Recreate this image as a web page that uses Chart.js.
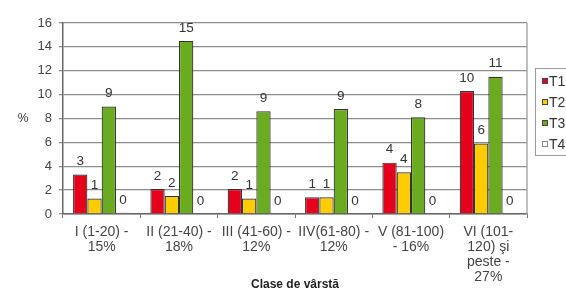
<!DOCTYPE html>
<html><head><meta charset="utf-8">
<script src="https://cdn.jsdelivr.net/npm/chart.js@4/dist/chart.umd.min.js"></script>
<style>html,body{margin:0;padding:0;background:#fff;overflow:hidden}#w{width:566px;height:295px;position:relative}</style>
</head><body><div id="w"><canvas id="c" width="566" height="295"></canvas></div>
<script>
const categories = [
  ["I (1-20) -", "15%"],
  ["II (21-40) -", "18%"],
  ["III (41-60) -", "12%"],
  ["IIV(61-80) -", "12%"],
  ["V (81-100)", "- 16%"],
  ["VI (101-", "120) şi", "peste -", "27%"]
];
const seriesNames = ["T1", "T2", "T3", "T4"];
const t1 = [3.3, 2.1, 2.1, 1.4, 4.3, 10.3];
const t2 = [1.3, 1.5, 1.3, 1.4, 3.5, 5.9];
const t3 = [9.0, 14.5, 8.6, 8.8, 8.1, 11.5];
const t4 = [0.1, 0, 0, 0, 0, 0];
const t1Labels = ["3", "2", "2", "1", "4", "10"];
const t2Labels = ["1", "2", "1", "1", "4", "6"];
const t3Labels = ["9", "15", "9", "9", "8", "11"];
const t4Labels = ["0", "0", "0", "0", "0", "0"];
const yTicks = [0, 2, 4, 6, 8, 10, 12, 14, 16];
const xTitle = "Clase de vârstă";
const yTitle = "%";

const colors = ["#e5001c", "#ffcc00", "#6aab1f", "#ffffff"];
const labelSets = [t1Labels, t2Labels, t3Labels, t4Labels];
const FONT = "'Liberation Sans', Arial, sans-serif";

const extras = {
  id: 'extras',
  afterDatasetsDraw(chart) {
    const ctx = chart.ctx;
    const a = chart.chartArea;
    ctx.save();
    // right border of plot
    ctx.strokeStyle = '#aaa';
    ctx.lineWidth = 1.5;
    ctx.beginPath();
    ctx.moveTo(a.right, a.top);
    ctx.lineTo(a.right, a.bottom);
    ctx.stroke();
    // data labels
    ctx.font = '13.5px ' + FONT;
    ctx.fillStyle = '#333';
    ctx.textAlign = 'center';
    ctx.textBaseline = 'middle';
    chart.data.datasets.forEach((ds, di) => {
      const meta = chart.getDatasetMeta(di);
      meta.data.forEach((bar, i) => {
        ctx.fillText(labelSets[di][i], bar.x, bar.y - 13);
      });
    });
    // y title
    ctx.font = '12px ' + FONT;
    ctx.fillText(yTitle, 23, 119);
    // legend
    const lx = 535, ly = 68, lw = 40, lh = 87;
    ctx.fillStyle = '#fff';
    ctx.fillRect(lx, ly, lw, lh);
    ctx.strokeStyle = '#999';
    ctx.lineWidth = 1;
    ctx.strokeRect(lx + 0.5, ly + 0.5, lw, lh);
    ctx.textAlign = 'left';
    ctx.font = '14px ' + FONT;
    seriesNames.forEach((n, k) => {
      const cy = 81 + k * 21;
      ctx.fillStyle = colors[k];
      ctx.fillRect(542, cy - 3, 6, 6);
      ctx.strokeStyle = k === 3 ? '#888' : '#444';
      ctx.strokeRect(542.5, cy - 2.5, 5, 5);
      ctx.fillStyle = '#333';
      ctx.fillText(n, 549, cy + 1);
    });
    ctx.restore();
  }
};

new Chart(document.getElementById('c'), {
  type: 'bar',
  data: {
    labels: categories,
    datasets: [t1, t2, t3, t4].map((d, k) => ({
      label: seriesNames[k],
      data: d,
      backgroundColor: colors[k],
      borderColor: k === 3 ? '#222' : '#333',
      borderWidth: 1.2,
      categoryPercentage: 0.74,
      barPercentage: 1.0
    }))
  },
  options: {
    responsive: false,
    animation: false,
    devicePixelRatio: 1,
    layout: { padding: { left: 0, right: 39, top: 23, bottom: 0 } },
    plugins: { legend: { display: false }, tooltip: { enabled: false } },
    scales: {
      x: {
        grid: { display: true, drawOnChartArea: false, tickLength: 4, color: '#777', offset: true },
        border: { color: '#666', width: 1.5 },
        ticks: { color: '#444', font: { family: FONT, size: 14, lineHeight: 1.07 }, maxRotation: 0, autoSkip: false, padding: 7 },
        title: { display: true, text: xTitle, color: '#222', font: { family: FONT, size: 12, weight: 'bold' }, padding: { top: 0, bottom: 3 } },
        afterFit(s) { s.height = 81; }
      },
      y: {
        min: 0, max: 16,
        afterBuildTicks(s) { s.ticks = yTicks.map(v => ({ value: v })); },
        grid: { color: '#8c8c8c', lineWidth: 1.3, tickLength: 4 },
        border: { color: '#666', width: 1.5 },
        ticks: { color: '#444', font: { family: FONT, size: 13 }, padding: 7 },
        afterFit(s) { s.width = 63; }
      }
    }
  },
  plugins: [extras]
});
</script>
</body></html>
